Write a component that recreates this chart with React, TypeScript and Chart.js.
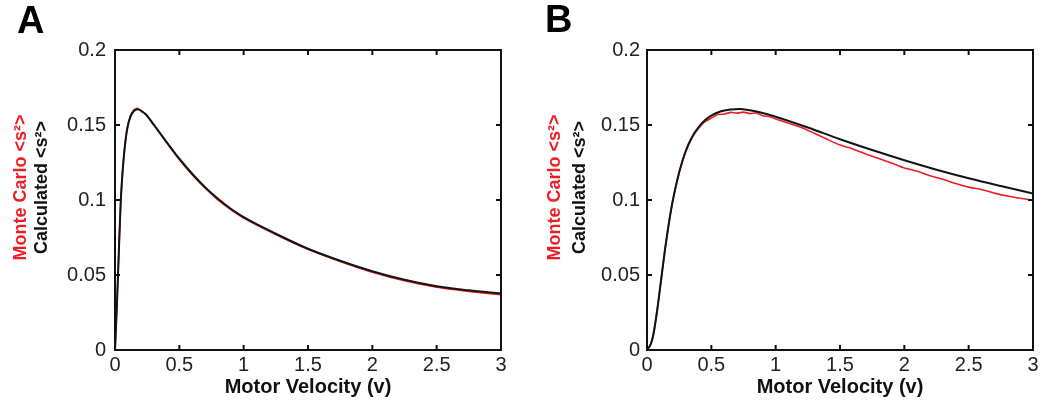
import React, { useEffect, useRef } from 'react';
import { Chart, registerables } from 'chart.js';

Chart.register(...registerables);

const FONT = "'Liberation Sans', Arial, Helvetica, sans-serif";

// ---------- axis ticks ----------
const xTickValues = [0, 0.5, 1, 1.5, 2, 2.5, 3];
const yTickValues = [0, 0.05, 0.1, 0.15, 0.2];

// ---------- labels ----------
const xTitle = 'Motor Velocity (v)';
const yTitleMC = 'Monte Carlo <s\u00B2>';
const yTitleCalc = 'Calculated <s\u00B2>';

// ---------- Panel A ----------
const vA = [0, 0.015, 0.03, 0.045, 0.06, 0.075, 0.095, 0.12, 0.145, 0.175, 0.205, 0.24, 0.3, 0.36, 0.42, 0.5, 0.6, 0.7, 0.8, 0.9, 1.0, 1.25, 1.5, 1.75, 2.0, 2.25, 2.5, 2.75, 3.0];
const calcA = [0, 0.03, 0.066, 0.1, 0.12, 0.1345, 0.1475, 0.1556, 0.1592, 0.1605, 0.1595, 0.157, 0.1505, 0.1435, 0.1365, 0.1275, 0.1175, 0.1085, 0.1008, 0.0942, 0.0886, 0.0775, 0.0675, 0.0595, 0.0525, 0.0468, 0.0425, 0.0398, 0.0376];
const mcA = [0, 0.031, 0.066, 0.099, 0.12, 0.1345, 0.1478, 0.1562, 0.1598, 0.1612, 0.159, 0.1572, 0.15, 0.143, 0.136, 0.127, 0.1168, 0.108, 0.1001, 0.0936, 0.088, 0.077, 0.0671, 0.059, 0.0519, 0.0462, 0.0419, 0.0391, 0.0368];

// ---------- Panel B ----------
const vB = [0, 0.03, 0.05, 0.08, 0.11, 0.14, 0.17, 0.2, 0.25, 0.3, 0.35, 0.4, 0.45, 0.5, 0.57, 0.65, 0.72, 0.8, 0.9, 1.0, 1.25, 1.5, 1.75, 2.0, 2.25, 2.5, 2.75, 3.0];
const calcB = [0, 0.004, 0.0105, 0.027, 0.047, 0.067, 0.0845, 0.0995, 0.1185, 0.1325, 0.142, 0.1485, 0.1532, 0.1563, 0.159, 0.1603, 0.1607, 0.1598, 0.158, 0.1555, 0.1483, 0.1405, 0.1333, 0.1265, 0.1202, 0.1145, 0.1093, 0.1043];
const vMcB = [0, 0.03, 0.05, 0.08, 0.11, 0.14, 0.17, 0.2, 0.25, 0.3, 0.35, 0.4, 0.45, 0.5, 0.55, 0.6, 0.65, 0.7, 0.75, 0.8, 0.85, 0.9, 0.95, 1.0, 1.1, 1.2, 1.3, 1.4, 1.5, 1.6, 1.7, 1.8, 1.9, 2.0, 2.1, 2.2, 2.3, 2.4, 2.5, 2.6, 2.7, 2.8, 2.9, 3.0];
const mcB = [0, 0.004, 0.0105, 0.027, 0.047, 0.067, 0.0845, 0.0993, 0.1182, 0.1318, 0.1415, 0.1476, 0.1522, 0.1546, 0.157, 0.1572, 0.1584, 0.1579, 0.1586, 0.1576, 0.158, 0.1562, 0.1556, 0.154, 0.1512, 0.1484, 0.1445, 0.1405, 0.1367, 0.134, 0.1307, 0.1276, 0.1246, 0.1213, 0.1192, 0.1162, 0.1138, 0.111, 0.1086, 0.107, 0.1046, 0.1027, 0.1012, 0.0998];

const toPts = (xs: number[], ys: number[]) => xs.map((x, i) => ({ x, y: ys[i] }));

type PanelLayout = {
  letter: string;
  letterX: number;
  letterY: number;
  padRight: number;
  redAxisWidth: number;
  redTitlePad: number;
  mainAxisWidth: number;
  mainTitlePad: number;
  yTickPad: number;
};

function makeFramePlugin(letter: string, lx: number, ly: number) {
  return {
    id: 'frame' + letter,
    afterDatasetsDraw(chart: any) {
      const { ctx, chartArea } = chart;
      const { left, right, top, bottom } = chartArea;
      const xs = chart.scales.x;
      const ys = chart.scales.y;
      ctx.save();
      ctx.strokeStyle = '#111';
      ctx.lineWidth = 2;
      ctx.beginPath();
      xs.ticks.forEach((t: any) => {
        const px = xs.getPixelForValue(t.value);
        ctx.moveTo(px, bottom);
        ctx.lineTo(px, bottom - 5);
        ctx.moveTo(px, top);
        ctx.lineTo(px, top + 5);
      });
      ys.ticks.forEach((t: any) => {
        const py = ys.getPixelForValue(t.value);
        ctx.moveTo(left, py);
        ctx.lineTo(left + 5, py);
        ctx.moveTo(right, py);
        ctx.lineTo(right - 5, py);
      });
      ctx.stroke();
      ctx.strokeRect(left, top, right - left, bottom - top);
      ctx.restore();
    },
    afterDraw(chart: any) {
      const { ctx } = chart;
      ctx.save();
      ctx.fillStyle = '#000';
      ctx.font = `bold 38px ${FONT}`;
      ctx.textBaseline = 'alphabetic';
      ctx.textAlign = 'left';
      ctx.fillText(letter, lx, ly);
      ctx.restore();
    },
  };
}

const fmt = (v: any) => String(Number(v));
const SHIFT = '\u00A0\u00A0\u00A0\u00A0\u00A0';

function Panel({ layout, calcPts, mcPts }: { layout: PanelLayout; calcPts: { x: number; y: number }[]; mcPts: { x: number; y: number }[] }) {
  const ref = useRef<HTMLCanvasElement | null>(null);
  useEffect(() => {
    if (!ref.current) return;
    const chart = new Chart(ref.current, {
      type: 'line',
      data: {
        datasets: [
          {
            label: 'Calculated',
            data: calcPts,
            borderColor: '#101510',
            borderWidth: 2,
            pointRadius: 0,
            cubicInterpolationMode: 'monotone',
            order: 0,
            yAxisID: 'y',
          },
          {
            label: 'Monte Carlo',
            data: mcPts,
            borderColor: '#ee1c25',
            borderWidth: 1.6,
            pointRadius: 0,
            tension: 0.2,
            order: 1,
            yAxisID: 'y',
          },
        ],
      },
      options: {
        responsive: false,
        animation: false,
        layout: { padding: { left: 0, top: 50, right: layout.padRight, bottom: 0 } },
        plugins: { legend: { display: false }, tooltip: { enabled: false }, title: { display: false } },
        scales: {
          x: {
            type: 'linear',
            min: 0,
            max: 3,
            afterBuildTicks: (s: any) => {
              s.ticks = xTickValues.map((v) => ({ value: v }));
            },
            afterFit: (s: any) => {
              s.height = 54;
            },
            grid: { display: false, drawTicks: false },
            border: { display: false },
            ticks: {
              autoSkip: false,
              maxRotation: 0,
              padding: 3,
              color: '#222',
              font: { family: FONT, size: 20 },
              callback: fmt,
            },
            title: {
              display: true,
              text: xTitle,
              color: '#111',
              font: { family: FONT, size: 20, weight: 'bold' },
              padding: { top: 0, bottom: 5 },
            },
          },
          y: {
            type: 'linear',
            position: 'left',
            min: 0,
            max: 0.2,
            weight: 0,
            afterBuildTicks: (s: any) => {
              s.ticks = yTickValues.map((v) => ({ value: v }));
            },
            afterFit: (s: any) => {
              s.width = layout.mainAxisWidth;
            },
            grid: { display: false, drawTicks: false },
            border: { display: false },
            ticks: {
              padding: layout.yTickPad,
              color: '#222',
              font: { family: FONT, size: 20 },
              callback: fmt,
            },
            title: {
              display: true,
              text: SHIFT + yTitleCalc,
              color: '#111',
              font: { family: FONT, size: 18, weight: 'bold' },
              padding: { top: layout.mainTitlePad, bottom: 0 },
            },
          },
          yRed: {
            type: 'linear',
            axis: 'y',
            position: 'left',
            min: 0,
            max: 0.2,
            weight: 1,
            afterFit: (s: any) => {
              s.width = layout.redAxisWidth;
            },
            grid: { display: false, drawTicks: false },
            border: { display: false },
            ticks: { display: false },
            title: {
              display: true,
              text: SHIFT + yTitleMC,
              color: '#ee1c25',
              font: { family: FONT, size: 18, weight: 'bold' },
              padding: { top: layout.redTitlePad, bottom: 0 },
            },
          },
        },
      } as any,
      plugins: [makeFramePlugin(layout.letter, layout.letterX, layout.letterY)],
    });
    return () => chart.destroy();
  }, []);
  return <canvas ref={ref} width={525} height={404} style={{ width: 525, height: 404, display: 'block' }} />;
}

const layoutA: PanelLayout = {
  letter: 'A',
  letterX: 17,
  letterY: 33,
  padRight: 24,
  redAxisWidth: 30,
  redTitlePad: 10,
  mainAxisWidth: 85,
  mainTitlePad: 1,
  yTickPad: 9,
};

const layoutB: PanelLayout = {
  letter: 'B',
  letterX: 20,
  letterY: 32,
  padRight: 17,
  redAxisWidth: 40,
  redTitlePad: 19,
  mainAxisWidth: 82,
  mainTitlePad: 4,
  yTickPad: 7,
};

export default function App() {
  return (
    <div style={{ position: 'fixed', left: 0, top: 0, width: 1050, height: 404, background: '#fff', display: 'flex' }}>
      <Panel layout={layoutA} calcPts={toPts(vA, calcA)} mcPts={toPts(vA, mcA)} />
      <Panel layout={layoutB} calcPts={toPts(vB, calcB)} mcPts={toPts(vMcB, mcB)} />
    </div>
  );
}
